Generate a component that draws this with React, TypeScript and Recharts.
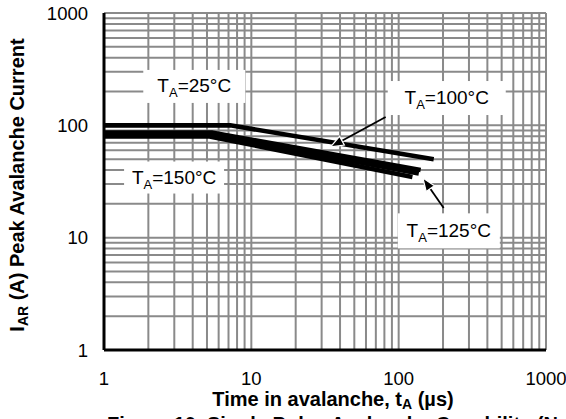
import React from 'react';
import { LineChart, Line, XAxis, YAxis, CartesianGrid, ReferenceDot, ReferenceLine } from 'recharts';

// Log grid ticks (minor + decades) shared by both axes
const gridTicks = [1, 2, 3, 4, 5, 6, 7, 8, 9, 10, 20, 30, 40, 50, 60, 70, 80, 90, 100, 200, 300, 400, 500, 600, 700, 800, 900, 1000];
const decadeLabels = [1, 10, 100, 1000];

// Series: time in avalanche (µs) vs peak avalanche current (A)
const ta25 = [
  { t: 1, i: 100 },
  { t: 7.2, i: 100 },
  { t: 173, i: 50 },
];
const ta100 = [
  { t: 1, i: 86.3 },
  { t: 5.4, i: 86.3 },
  { t: 141, i: 40 },
];
const ta125 = [
  { t: 1, i: 82.9 },
  { t: 5.3, i: 82.9 },
  { t: 137, i: 37.3 },
];
const ta150 = [
  { t: 1, i: 79.6 },
  { t: 5.2, i: 79.6 },
  { t: 124, i: 34.7 },
];

// Annotation labels (data coordinates of the box centre)
const labels = [
  { name: '25', t: 4.1, i: 222, w: 102, h: 33 },
  { name: '100', t: 212, i: 175, w: 118, h: 34 },
  { name: '150', t: 2.99, i: 34.3, w: 100, h: 32 },
  { name: '125', t: 219, i: 11.5, w: 102, h: 35 },
];
// Arrows from label to curve (data coordinates)
const arrows = [
  { from: { t: 81.6, i: 118.6 }, to: { t: 34.5, i: 64.2 } },
  { from: { t: 202, i: 18.4 }, to: { t: 146, i: 34.0 } },
];

const FONT = '"Liberation Sans", Arial, sans-serif';

const XTick = (props: any) => {
  const { x, y, payload } = props;
  if (!decadeLabels.includes(payload.value)) return <g />;
  return (
    <text x={x} y={y} dy="0.71em" textAnchor="middle" fontFamily={FONT} fontSize={18.5} fill="#000">
      {payload.value}
    </text>
  );
};

const YTick = (props: any) => {
  const { x, y, payload } = props;
  if (!decadeLabels.includes(payload.value)) return <g />;
  return (
    <text x={x} y={y} dy="0.355em" textAnchor="end" fontFamily={FONT} fontSize={18.5} fill="#000">
      {payload.value}
    </text>
  );
};

const makeLabelShape = (name: string, w: number, h: number) => (props: any) => {
  const { cx, cy } = props;
  return (
    <g>
      <rect x={cx - w / 2} y={cy - h / 2} width={w} height={h} fill="#fff" />
      <text x={cx} y={cy + 6} textAnchor="middle" fontFamily={FONT} fontSize={19} fill="#000">
        <tspan>T</tspan>
        <tspan fontSize={13} dy={5}>A</tspan>
        <tspan dy={-5}>{`=${name}°C`}</tspan>
      </text>
    </g>
  );
};

const ArrowShape = (props: any) => {
  const { x1, y1, x2, y2 } = props;
  const ang = Math.atan2(y2 - y1, x2 - x1);
  const len = 13;
  const half = 5;
  const bx = x2 - len * Math.cos(ang);
  const by = y2 - len * Math.sin(ang);
  const px = -Math.sin(ang) * half;
  const py = Math.cos(ang) * half;
  return (
    <g>
      <line x1={x1} y1={y1} x2={bx} y2={by} stroke="#000" strokeWidth={1.8} />
      <polygon
        points={`${x2},${y2} ${bx + px},${by + py} ${bx - px},${by - py}`}
        fill="#000"
        stroke="#fff"
        strokeWidth={1.2}
      />
    </g>
  );
};

export default function App() {
  return (
    <div style={{ position: 'absolute', left: 0, top: 0, width: 566, height: 419, overflow: 'hidden', background: '#fff' }}>
      <LineChart width={566} height={419} margin={{ top: 13, right: 20, bottom: 39, left: 0 }}>
        <CartesianGrid stroke="#8a8a8a" strokeWidth={2} horizontal vertical />
        <XAxis
          dataKey="t"
          type="number"
          scale="log"
          domain={[1, 1000]}
          ticks={gridTicks}
          interval={0}
          allowDataOverflow
          height={30}
          tickLine={false}
          tickSize={0}
          tickMargin={22}
          tick={<XTick />}
          axisLine={{ stroke: '#000', strokeWidth: 3 }}
        />
        <YAxis
          dataKey="i"
          type="number"
          scale="log"
          domain={[1, 1000]}
          ticks={gridTicks}
          interval={0}
          allowDataOverflow
          width={104}
          tickLine={false}
          tickSize={0}
          tickMargin={16}
          tick={<YTick />}
          axisLine={{ stroke: '#000', strokeWidth: 3 }}
        />
        {labels.map((l) => (
          <ReferenceDot
            key={l.name}
            x={l.t}
            y={l.i}
            r={1}
            ifOverflow="visible"
            shape={makeLabelShape(l.name, l.w, l.h)}
          />
        ))}
        <Line data={ta25} dataKey="i" type="linear" stroke="#000" strokeWidth={4.6} dot={false} isAnimationActive={false} />
        <Line data={ta100} dataKey="i" type="linear" stroke="#000" strokeWidth={4.5} dot={false} isAnimationActive={false} />
        <Line data={ta125} dataKey="i" type="linear" stroke="#000" strokeWidth={4.5} dot={false} isAnimationActive={false} />
        <Line data={ta150} dataKey="i" type="linear" stroke="#000" strokeWidth={4.5} dot={false} isAnimationActive={false} />
        {arrows.map((a, k) => (
          <ReferenceLine
            key={k}
            segment={[{ x: a.from.t, y: a.from.i }, { x: a.to.t, y: a.to.i }]}
            ifOverflow="visible"
            shape={ArrowShape}
          />
        ))}
      </LineChart>
      <svg width={566} height={419} style={{ position: 'absolute', left: 0, top: 0, pointerEvents: 'none' }}>
        <text x={333} y={406} textAnchor="middle" fontFamily={FONT} fontWeight="bold" fontSize={20} fill="#000">
          <tspan>Time in avalanche, t</tspan>
          <tspan fontSize={14} dy={3}>A</tspan>
          <tspan dy={-3}> (µs)</tspan>
        </text>
        <text x={107} y={431} textAnchor="start" fontFamily={FONT} fontWeight="bold" fontSize={20} fill="#000">
          Figure 10. Single Pulse Avalanche Capability (Note 4)
        </text>
        <text
          transform="translate(23.5,185) rotate(-90)"
          x={0}
          y={0}
          textAnchor="middle"
          fontFamily={FONT}
          fontWeight="bold"
          fontSize={20}
          fill="#000"
        >
          <tspan>I</tspan>
          <tspan fontSize={14} dy={4}>AR</tspan>
          <tspan dy={-4}> (A) Peak Avalanche Current</tspan>
        </text>
      </svg>
    </div>
  );
}
